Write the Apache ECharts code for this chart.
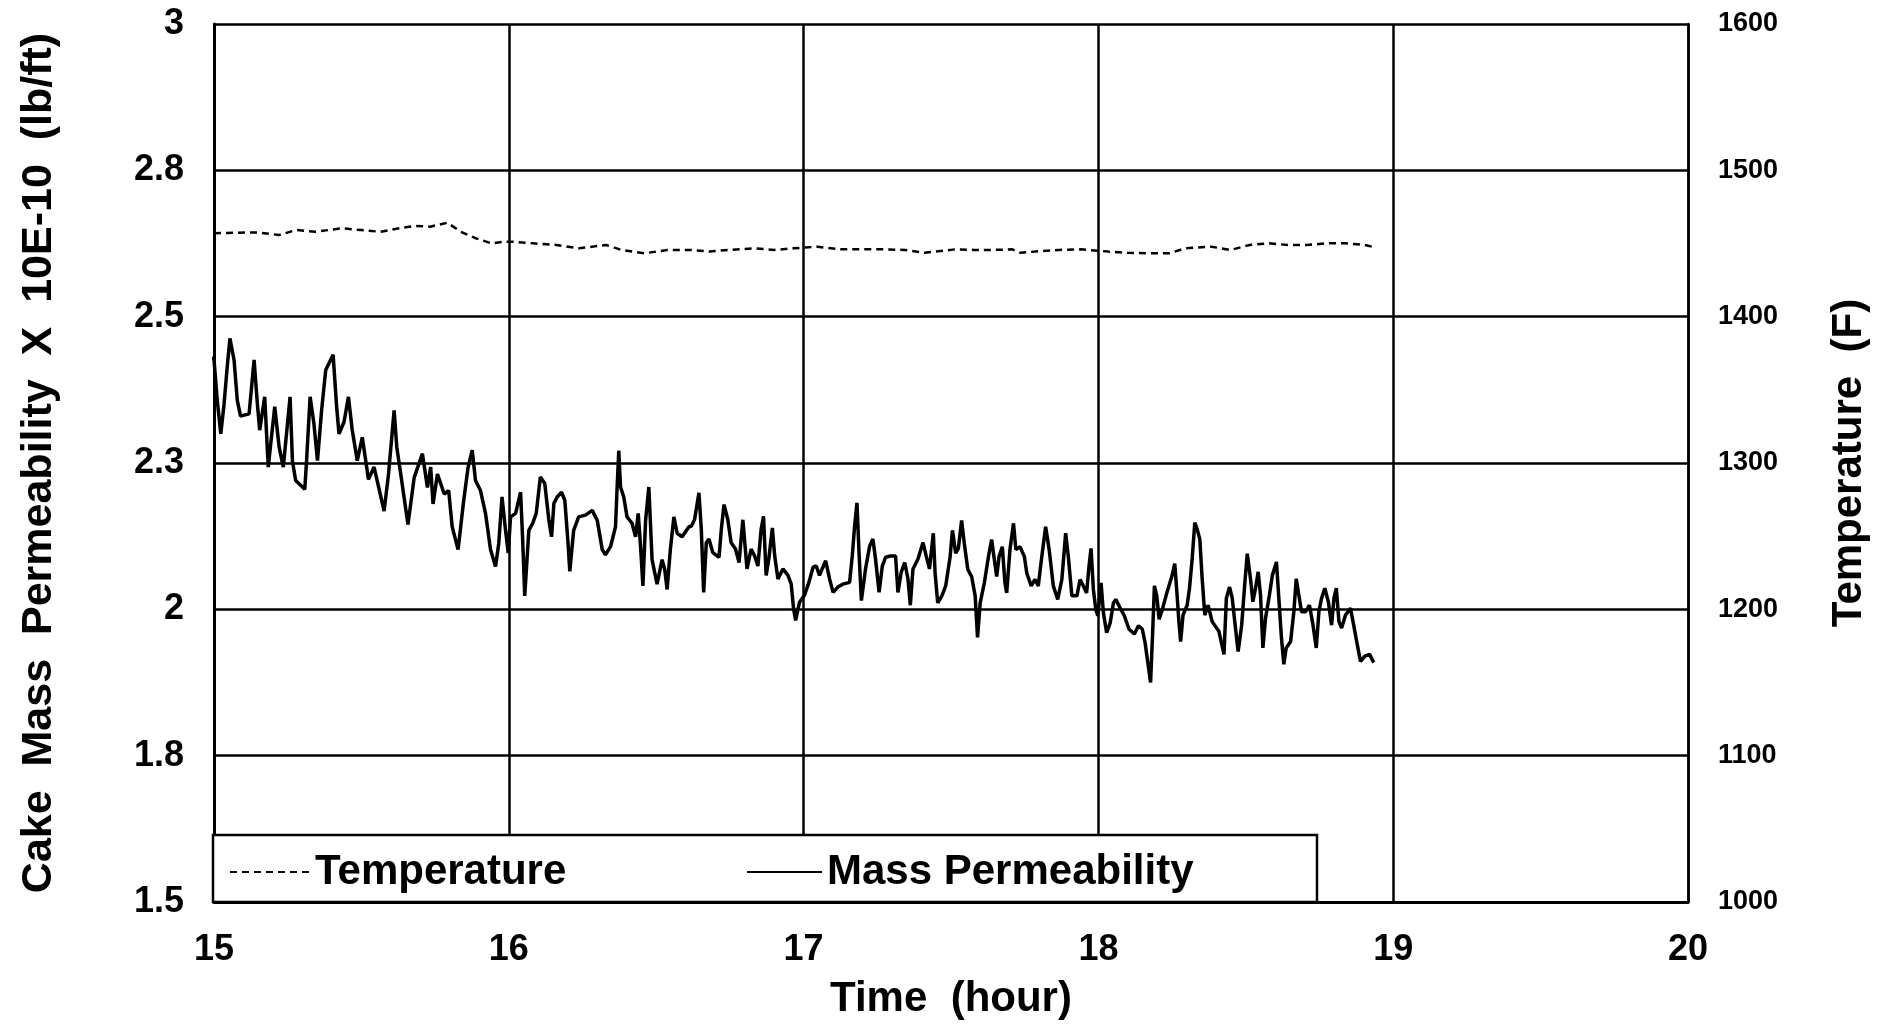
<!DOCTYPE html>
<html>
<head>
<meta charset="utf-8">
<script src="https://cdn.jsdelivr.net/npm/echarts@6/dist/echarts.min.js"></script>
<style>
html,body{margin:0;padding:0;background:#fff;}
#chart{width:1888px;height:1028px;}
</style>
</head>
<body>
<div id="chart"></div>
<script>
// ---- data ----
const xTickLabels = ['15','16','17','18','19','20'];
const leftTickLabels = ['1.5','1.8','2','2.3','2.5','2.8','3'];
const rightTickLabels = ['1000','1100','1200','1300','1400','1500','1600'];

const permHours = [14.960,14.963,14.969,14.989,15.0,15.011,15.023,15.034,15.045,15.054,15.068,15.079,15.090,15.119,15.136,15.147,15.155,15.172,15.184,15.206,15.221,15.235,15.258,15.266,15.277,15.308,15.314,15.326,15.339,15.351,15.365,15.379,15.404,15.416,15.424,15.441,15.456,15.469,15.486,15.503,15.524,15.543,15.577,15.592,15.611,15.620,15.630,15.658,15.679,15.707,15.724,15.735,15.743,15.758,15.781,
15.796,15.808,15.828,15.847,15.862,15.876,15.887,15.904,15.921,15.938,15.955,15.966,15.977,15.989,15.998,16.006,16.023,16.040,16.047,16.054,16.068,16.081,16.093,16.107,16.122,16.136,16.145,16.153,16.164,16.179,16.190,16.201,16.207,16.220,16.237,16.260,16.283,16.300,16.317,16.328,16.345,16.362,16.367,16.373,16.379,16.390,16.401,16.418,16.430,16.439,16.447,16.455,16.464,16.475,16.486,16.503,16.520,16.529,16.537,16.548,16.560,16.571,16.588,16.611,
16.619,16.630,16.645,16.653,16.661,16.670,16.679,16.692,16.713,16.721,16.730,16.743,16.754,16.769,16.781,16.794,16.800,16.808,16.822,16.834,16.845,16.856,16.864,16.873,16.882,16.894,16.902,16.913,16.930,16.947,16.958,16.966,16.973,16.986,17.003,17.018,17.032,17.043,17.054,17.063,17.075,17.088,17.100,17.116,17.133,17.156,17.165,17.173,17.181,17.188,17.196,17.210,17.224,17.235,17.244,17.256,17.267,17.278,17.294,17.312,17.320,17.331,17.343,17.354,17.362,17.371,17.388,17.405,17.416,17.427,
17.440,17.446,17.455,17.469,17.482,17.497,17.505,17.516,17.525,17.536,17.545,17.557,17.570,17.582,17.590,17.599,17.613,17.627,17.638,17.647,17.655,17.663,17.674,17.683,17.689,17.700,17.712,17.720,17.734,17.749,17.757,17.772,17.785,17.796,17.808,17.821,17.833,17.847,17.862,17.876,17.889,17.898,17.910,17.927,17.938,17.949,17.960,17.968,17.975,17.983,17.991,17.998,18.009,18.017,18.028,18.040,18.051,18.059,18.073,18.088,18.104,18.122,18.136,18.149,18.158,18.177,18.184,18.190,18.198,18.206,18.217,18.232,18.249,
18.259,18.267,18.273,18.279,18.287,18.301,18.309,18.318,18.327,18.335,18.344,18.352,18.361,18.372,18.386,18.409,18.426,18.434,18.445,18.454,18.465,18.474,18.486,18.497,18.505,18.516,18.524,18.533,18.542,18.550,18.558,18.567,18.580,18.590,18.604,18.612,18.621,18.629,18.637,18.652,18.663,18.671,18.680,18.689,18.703,18.716,18.728,18.739,18.748,18.757,18.768,18.780,18.791,18.799,18.807,18.816,18.825,18.838,18.855,18.866,18.878,18.889,18.904,18.920,18.934];

const permValues = [2.567,2.495,2.41,2.43,2.427,2.357,2.30,2.35,2.415,2.463,2.426,2.357,2.33,2.334,2.426,2.352,2.306,2.363,2.243,2.346,2.277,2.243,2.363,2.254,2.22,2.205,2.254,2.363,2.317,2.254,2.34,2.409,2.435,2.346,2.30,2.32,2.363,2.306,2.254,2.294,2.222,2.243,2.168,2.231,2.34,2.277,2.243,2.145,2.225,2.266,2.208,2.243,2.18,2.231,2.197,
2.203,2.141,2.102,2.186,2.243,2.272,2.22,2.203,2.164,2.102,2.073,2.113,2.192,2.135,2.096,2.158,2.164,2.2,2.119,2.023,2.135,2.147,2.164,2.226,2.215,2.152,2.124,2.181,2.192,2.2,2.186,2.113,2.065,2.135,2.158,2.161,2.169,2.152,2.102,2.093,2.107,2.141,2.203,2.271,2.209,2.192,2.158,2.147,2.124,2.164,2.107,2.04,2.152,2.209,2.085,2.043,2.085,2.068,2.034,2.102,2.158,2.13,2.124,2.141,
2.142,2.153,2.199,2.137,2.029,2.114,2.12,2.097,2.089,2.137,2.179,2.153,2.114,2.103,2.08,2.153,2.156,2.069,2.103,2.091,2.074,2.137,2.159,2.058,2.086,2.139,2.091,2.052,2.069,2.058,2.043,2.001,1.981,2.012,2.024,2.046,2.072,2.074,2.058,2.069,2.083,2.052,2.029,2.038,2.043,2.046,2.091,2.142,2.182,2.097,2.015,2.069,2.108,2.12,2.086,2.029,2.074,2.089,2.091,2.091,2.029,2.063,2.08,2.052,2.007,2.069,2.086,2.114,2.091,2.069,
2.13,2.062,2.011,2.023,2.04,2.09,2.135,2.096,2.104,2.152,2.113,2.068,2.056,2.023,1.952,2.011,2.045,2.09,2.119,2.085,2.056,2.09,2.107,2.045,2.028,2.102,2.147,2.102,2.107,2.09,2.062,2.04,2.051,2.04,2.09,2.141,2.102,2.04,2.017,2.051,2.13,2.09,2.023,2.023,2.051,2.04,2.028,2.073,2.104,2.034,2.0,1.989,2.045,1.994,1.96,1.977,2.011,2.017,2.003,1.989,1.966,1.958,1.972,1.966,1.944,1.875,1.96,2.04,2.023,1.983,2.0,2.028,2.056,
2.078,2.024,1.979,1.945,1.99,2.007,2.036,2.086,2.148,2.137,2.12,2.052,1.99,2.007,1.979,1.962,1.923,2.019,2.038,2.019,1.968,1.928,1.973,2.047,2.095,2.052,2.013,2.036,2.064,2.024,1.934,1.985,2.024,2.058,2.081,2.019,1.951,1.906,1.934,1.945,1.996,2.052,2.024,1.996,1.996,2.007,1.973,1.934,1.996,2.019,2.036,2.013,1.973,2.019,2.036,1.979,1.968,1.99,2.002,1.973,1.94,1.911,1.92,1.923,1.909];

const tempHours = [15.0,15.084,15.149,15.220,15.279,15.344,15.434,15.499,15.564,15.629,15.681,15.733,15.792,15.837,15.889,15.941,15.980,16.012,16.084,16.161,16.239,16.330,16.382,16.460,16.538,16.616,16.681,16.746,16.837,16.901,16.966,
17.047,17.125,17.203,17.281,17.345,17.410,17.514,17.579,17.644,17.708,17.735,17.786,17.865,17.942,18.033,18.098,18.176,18.241,18.293,18.384,18.448,18.513,18.579,18.643,18.708,18.773,18.838,18.903,18.929];
const tempValues = [1457,1457.4,1457.6,1455.8,1459.2,1458,1460.4,1459.2,1458,1460.4,1462,1461.5,1464.2,1458,1453.5,1450.1,1451.2,1451.2,1450.1,1449,1446.7,1449,1445.6,1443.3,1445.6,1445.6,1444.5,1445.6,1446.7,1445.6,1446.7,
1447.8,1446,1446,1446,1445.6,1443.7,1446,1445.6,1445.6,1446,1443.7,1444.5,1445.6,1446,1444.5,1443.7,1443.3,1443.3,1446.7,1447.8,1445.6,1449,1450.1,1449,1449,1450.1,1450.1,1449,1447.8];

// ---- build ----
const permData = permHours.map((h, i) => [h, permValues[i]]);
const tempData = tempHours.map((h, i) => [h, tempValues[i]]);
const FONT = '"Liberation Sans", Arial, sans-serif';

const chart = echarts.init(document.getElementById('chart'), null, {renderer: 'canvas'});
chart.setOption({
  backgroundColor: '#fff',
  animation: false,
  color: ['#000', '#000'],
  grid: {left: 214, right: 200, top: 24, bottom: 126, containLabel: false},
  xAxis: {
    type: 'value', min: 15, max: 20, interval: 1,
    name: 'Time  (hour)', nameLocation: 'middle', nameGap: 76,
    nameTextStyle: {fontFamily: FONT, fontWeight: 'bold', fontSize: 42, color: '#000'},
    axisLine: {show: true, lineStyle: {color: '#000', width: 3}},
    axisTick: {show: false},
    axisLabel: {margin: 30, fontFamily: FONT, fontWeight: 'bold', fontSize: 36, color: '#000',
      formatter: v => xTickLabels[Math.round(v - 15)]},
    splitLine: {show: true, lineStyle: {color: '#000', width: 2.5}}
  },
  yAxis: [{
    type: 'value', min: 1.5, max: 3, interval: 0.25, position: 'left',
    name: 'Cake  Mass  Permeability  X  10E-10  (lb/ft)', nameLocation: 'middle', nameRotate: 90, nameGap: 153,
    nameTextStyle: {fontFamily: FONT, fontWeight: 'bold', fontSize: 43, color: '#000'},
    axisLine: {show: true, lineStyle: {color: '#000', width: 3}},
    axisTick: {show: false},
    axisLabel: {margin: 30, fontFamily: FONT, fontWeight: 'bold', fontSize: 36, color: '#000',
      formatter: v => leftTickLabels[Math.round((v - 1.5) / 0.25)]},
    splitLine: {show: true, lineStyle: {color: '#000', width: 2.5}}
  }, {
    type: 'value', min: 1000, max: 1600, interval: 100, position: 'right',
    name: 'Temperature  (F)', nameLocation: 'middle', nameRotate: 90, nameGap: 140,
    nameTextStyle: {fontFamily: FONT, fontWeight: 'bold', fontSize: 42, color: '#000'},
    axisLine: {show: true, lineStyle: {color: '#000', width: 2.5}},
    axisTick: {show: false},
    axisLabel: {margin: 30, fontFamily: FONT, fontWeight: 'bold', fontSize: 27, color: '#000',
      formatter: v => rightTickLabels[Math.round((v - 1000) / 100)]},
    splitLine: {show: false}
  }],
  legend: [{
    data: ['Temperature'], left: 229, top: 851, padding: 0, z: 10,
    itemWidth: 80, itemHeight: 20,
    itemStyle: {opacity: 0},
    textStyle: {fontFamily: FONT, fontWeight: 'bold', fontSize: 42, color: '#000'}
  }, {
    data: ['Mass Permeability'], left: 746, top: 851, padding: 0, z: 10,
    itemWidth: 75, itemHeight: 20,
    itemStyle: {opacity: 0},
    textStyle: {fontFamily: FONT, fontWeight: 'bold', fontSize: 42, color: '#000'}
  }],
  graphic: [{
    type: 'rect', z: 3,
    shape: {x: 213, y: 835, width: 1104, height: 67},
    style: {fill: '#fff', stroke: '#000', lineWidth: 2.5}
  }],
  series: [{
    name: 'Temperature', type: 'line', yAxisIndex: 1, data: tempData,
    symbol: 'none', smooth: false,
    itemStyle: {color: '#000'},
    lineStyle: {color: '#000', width: 2.5, type: [7, 5]}
  }, {
    name: 'Mass Permeability', type: 'line', yAxisIndex: 0, data: permData,
    symbol: 'none', smooth: false, clip: false,
    itemStyle: {color: '#000'},
    lineStyle: {color: '#000', width: 3.5}
  }]
});
</script>
</body>
</html>
